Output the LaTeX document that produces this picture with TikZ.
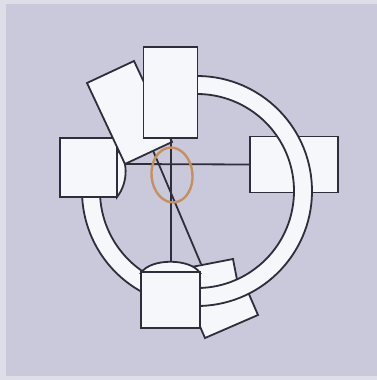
\documentclass[tikz,border=0pt]{standalone}
\usetikzlibrary{calc,shapes.geometric}
\definecolor{bgouter}{HTML}{DEDEE8}
\definecolor{bginner}{HTML}{C9C9DB}
\definecolor{ink}{HTML}{2E2E3A}
\definecolor{boxfill}{HTML}{F5F7FB}
\definecolor{ovalc}{HTML}{C4915E}
\tikzset{
  boxst/.style={draw=ink, fill=boxfill, line width=1.8pt, line join=miter},
  upbox/.style={boxst, rectangle, inner sep=0pt, outer sep=0pt},
  ringst/.style={draw=ink, fill=boxfill, line width=1.8pt},
  wire/.style={draw=ink, line width=1.8pt},
  ovalst/.style={draw=ovalc, line width=2.4pt},
}
\begin{document}
\begin{tikzpicture}[x=1pt, y=1pt, yscale=-1]
\useasboundingbox (0,0) rectangle (377,380);
% background
\fill[bgouter] (0,0) rectangle (377,380);
\fill[bginner] (6,4) rectangle (377,376);

% right box (below the ring)
\node[upbox, minimum width=88pt, minimum height=56pt] (right) at (294,164.5) {};

% bottom-right tilted plates (below the ring)
\coordinate (aTL) at (193.7,266.6);
\coordinate (aTR) at (233,259);
\coordinate (aBR) at (238.7,288.5);
\coordinate (aBL) at (199.4,296.1);
\path[boxst] (aTL) -- (aTR) -- (aBR) -- (aBL) -- cycle;
\coordinate (bTL) at (191.1,305.9);
\coordinate (bTR) at (244.1,282.9);
\coordinate (bBR) at (258,315);
\coordinate (bBL) at (205,338);
\path[boxst] (bTL) -- (bTR) -- (bBR) -- (bBL) -- cycle;

% ring
\path[ringst] ([shift={(197,191)}]-95:115pt) arc[start angle=-95, end angle=188, radius=115pt]
  -- ([shift={(197,191)}]188:97pt) arc[start angle=188, end angle=-95, radius=97pt] -- cycle;

% left box with its cap
\path[boxst] (117,150) .. controls (128,158) and (129,182) .. (117,197) -- cycle;
\node[upbox, minimum width=57pt, minimum height=59pt] (left) at (88.5,167.5) {};
\coordinate (captip) at (125,164);

% tilted box behind the top box
\coordinate (tTL) at (87,83);
\coordinate (tTR) at (134,61);
\coordinate (tBR) at (172,142);
\coordinate (tBL) at (125,164);
\path[boxst] (tTL) -- (tTR) -- (tBR) -- (tBL) -- cycle;

% top box
\node[upbox, minimum width=54pt, minimum height=91pt] (top) at (170.5,92.5) {};

% bottom box with dome
\path[boxst] (141,273) .. controls (150,258) and (191,258) .. (200,273) -- cycle;
\coordinate (dome) at (171,261.8);
\node[upbox, minimum width=59pt, minimum height=56pt] (bottom) at (170.5,300) {};

% connectors
\coordinate (diagA) at (153.2,151);
\coordinate (diagB) at (201,264);
\draw[wire] (top.south -| dome) -- (dome);
\draw[wire] (captip) -- (right.west);
\draw[wire] (diagA) -- (diagB);

% orange oval
\node[ovalst, ellipse, minimum width=41pt, minimum height=55pt, inner sep=0pt, rotate=5] (oval) at (172,175) {};
\end{tikzpicture}
\end{document}
